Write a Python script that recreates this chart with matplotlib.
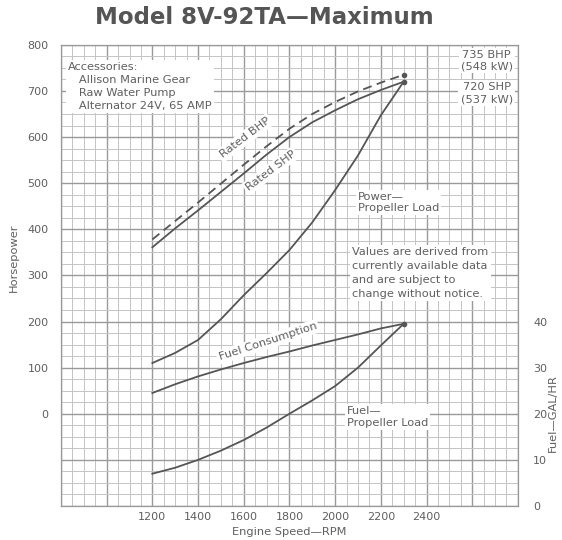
import matplotlib
matplotlib.use("Agg")
import matplotlib.pyplot as plt
import numpy as np

# engine speed, rpm
rpm = [1200, 1300, 1400, 1500, 1600, 1700, 1800, 1900, 2000, 2100, 2200, 2300]

# horsepower curves
rated_bhp = [378, 418, 458, 499, 540, 580, 618, 650, 676, 699, 718, 735]
rated_shp = [361, 402, 441, 481, 521, 562, 600, 632, 658, 682, 702, 720]
power_prop = [110, 132, 160, 205, 257, 305, 355, 415, 485, 560, 647, 720]

# fuel curves, gal/hr
fuel_max = [24.5, 26.4, 28.1, 29.6, 31.0, 32.3, 33.5, 34.8, 36.0, 37.2, 38.5, 39.5]
fuel_prop = [7.0, 8.3, 10.0, 12.0, 14.3, 17.0, 20.0, 22.9, 26.0, 30.0, 34.8, 39.5]

hp_ticks = [0, 100, 200, 300, 400, 500, 600, 700, 800]
fuel_ticks = [0, 10, 20, 30, 40]
rpm_ticks = [1200, 1400, 1600, 1800, 2000, 2200, 2400]

TXT = "#5f5f5f"
LINE = "#555555"
FONT = "DejaVu Sans"
FS = 8.2

fig = plt.figure(figsize=(5.62, 5.40), dpi=100)
ax = fig.add_axes([0.1085, 0.063, 0.813, 0.854])
ax.set_xlim(800, 2800)
ax.set_ylim(-200, 800)

# graph paper grid
ax.set_xticks(np.arange(800, 2801, 200))
ax.set_xticks(np.arange(800, 2801, 50), minor=True)
ax.set_yticks(np.arange(-200, 801, 100))
ax.set_yticks(np.arange(-200, 801, 25), minor=True)
ax.grid(which="minor", color="#c4c4c4", lw=0.7)
ax.grid(which="major", color="#9a9a9a", lw=1.0)
ax.set_axisbelow(True)
ax.tick_params(which="both", length=0, labelsize=8, labelcolor=TXT)
ax.tick_params(axis="y", pad=9)
ax.tick_params(axis="x", pad=4)
ax.set_xticklabels([str(v) if v in rpm_ticks else "" for v in range(800, 2801, 200)])
ax.set_yticklabels([str(v) if v in hp_ticks else "" for v in range(-200, 801, 100)])
for s in ax.spines.values():
    s.set_color("#999999")
    s.set_linewidth(0.9)

ax2 = ax.twinx()
ax2.set_ylim(0, 100)
ax2.set_yticks(fuel_ticks)
ax2.tick_params(length=0, labelsize=8, labelcolor=TXT, pad=11)
for s in ax2.spines.values():
    s.set_visible(False)

ax.plot(rpm, rated_bhp, color=LINE, lw=1.3, dashes=(5, 3), zorder=3)
ax.plot(rpm, rated_shp, color=LINE, lw=1.3, zorder=3)
ax.plot(rpm, power_prop, color=LINE, lw=1.3, zorder=3)
ax.plot([rpm[-1]], [rated_bhp[-1]], "o", color=LINE, ms=3, zorder=4)
ax.plot([rpm[-1]], [rated_shp[-1]], "o", color=LINE, ms=3, zorder=4)
ax2.plot(rpm, fuel_max, color=LINE, lw=1.3, zorder=3)
ax2.plot(rpm, fuel_prop, color=LINE, lw=1.3, zorder=3)
ax2.plot([rpm[-1]], [fuel_max[-1]], "o", color=LINE, ms=3, zorder=4)

box = dict(facecolor="white", edgecolor="none", pad=1.5)
kw = dict(color=TXT, fontsize=FS, family=FONT, bbox=box, zorder=5)

fig.text(264 / 562, 0.968, "Model 8V-92TA\u2014Maximum", ha="center", va="center",
         fontsize=16.5, fontweight="bold", color="#555555", family=FONT)

ax.text(830, 762, "Accessories:\n   Allison Marine Gear\n   Raw Water Pump\n   Alternator 24V, 65 AMP",
        ha="left", va="top", linespacing=1.37, **kw)
ax.text(2663, 766, "735 BHP\n(548 kW)", ha="center", va="center", linespacing=1.2, **kw)
ax.text(2663, 695, "720 SHP\n(537 kW)", ha="center", va="center", linespacing=1.2, **kw)
ax.text(1605, 598, "Rated BHP", rotation=37, ha="center", va="center", **kw)
ax.text(1718, 527, "Rated SHP", rotation=37, ha="center", va="center", **kw)
ax.text(2100, 458, "Power\u2014\nPropeller Load", ha="left", va="center", linespacing=1.2, **kw)
ax.text(2075, 305, "Values are derived from\ncurrently available data\nand are subject to\nchange without notice.",
        ha="left", va="center", linespacing=1.5, **kw)
ax.text(1705, 156, "Fuel Consumption", rotation=18, ha="center", va="center", **kw)
ax.text(2052, -7, "Fuel\u2014\nPropeller Load", ha="left", va="center", linespacing=1.2, **kw)

ax.set_xlabel("Engine Speed\u2014RPM", fontsize=FS, color=TXT, family=FONT, labelpad=4)
fig.text(14 / 562, 1 - 258 / 540, "Horsepower", rotation=90, ha="center", va="center",
         fontsize=FS, color=TXT, family=FONT)
fig.text(553 / 562, 1 - 413 / 540, "Fuel\u2014GAL/HR", rotation=90, ha="center", va="center",
         fontsize=FS, color=TXT, family=FONT)

fig.savefig("out.png", dpi=100)
